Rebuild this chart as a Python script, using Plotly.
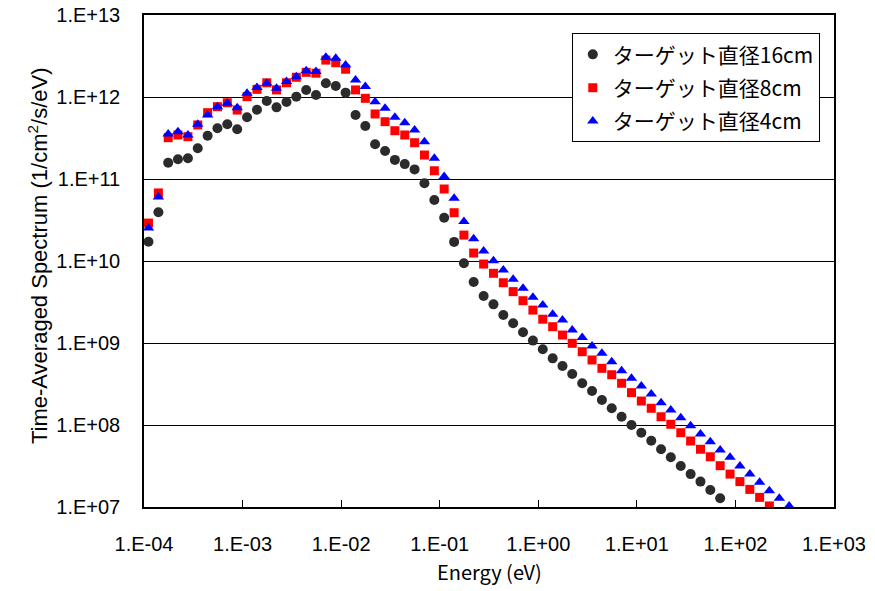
import plotly.graph_objects as go

# Energy bins (eV)
energy = [
    1.11e-4, 1.40e-4, 1.76e-4, 2.21e-4, 2.79e-4, 3.51e-4, 4.42e-4, 5.56e-4, 7.00e-4, 8.82e-4,
    1.11e-3, 1.40e-3, 1.76e-3, 2.21e-3, 2.79e-3, 3.51e-3, 4.42e-3, 5.56e-3, 7.00e-3, 8.82e-3,
    1.11e-2, 1.40e-2, 1.76e-2, 2.21e-2, 2.79e-2, 3.51e-2, 4.42e-2, 5.56e-2, 7.00e-2, 8.82e-2,
    1.11e-1, 1.40e-1, 1.76e-1, 2.21e-1, 2.79e-1, 3.51e-1, 4.42e-1, 5.56e-1, 7.00e-1, 8.82e-1,
    1.11e0, 1.40e0, 1.76e0, 2.21e0, 2.79e0, 3.51e0, 4.42e0, 5.56e0, 7.00e0, 8.82e0,
    1.11e1, 1.40e1, 1.76e1, 2.21e1, 2.79e1, 3.51e1, 4.42e1, 5.56e1, 7.00e1, 8.82e1,
    1.11e2, 1.40e2, 1.76e2, 2.21e2, 2.79e2, 3.51e2,
]

# Target diameter 16 cm
flux_16cm = [
    1.72e10, 3.93e10, 1.58e11, 1.74e11, 1.79e11, 2.37e11, 3.37e11, 4.15e11, 4.65e11, 4.04e11,
    5.65e11, 7.00e11, 8.93e11, 7.48e11, 8.69e11, 1.01e12, 1.22e12, 1.06e12, 1.47e12, 1.36e12,
    1.13e12, 6.03e11, 4.43e11, 2.65e11, 2.19e11, 1.71e11, 1.52e11, 1.31e11, 8.87e10, 5.55e10,
    3.37e10, 1.71e10, 9.38e9, 5.55e9, 3.74e9, 2.96e9, 2.19e9, 1.74e9, 1.35e9, 1.07e9,
    8.38e8, 6.50e8, 5.25e8, 4.19e8, 3.23e8, 2.60e8, 2.02e8, 1.60e8, 1.26e8, 1.00e8,
    8.05e7, 6.44e7, 5.06e7, 4.04e7, 3.16e7, 2.52e7, 2.04e7, 1.61e7, 1.28e7,
]

# Target diameter 8 cm
flux_8cm = [
    2.90e10, 6.76e10, 3.19e11, 3.44e11, 3.28e11, 4.56e11, 6.44e11, 7.62e11, 8.51e11, 6.93e11,
    1.01e12, 1.24e12, 1.49e12, 1.22e12, 1.49e12, 1.74e12, 2.00e12, 1.95e12, 2.82e12, 2.62e12,
    2.18e12, 1.22e12, 9.64e11, 6.21e11, 5.00e11, 3.88e11, 3.44e11, 2.77e11, 1.96e11, 1.26e11,
    7.55e10, 3.88e10, 2.07e10, 1.25e10, 9.18e9, 7.08e9, 5.43e9, 4.23e9, 3.28e9, 2.52e9,
    1.95e9, 1.58e9, 1.25e9, 9.91e8, 7.83e8, 6.21e8, 4.91e8, 4.10e8, 3.23e8, 2.48e8,
    1.96e8, 1.60e8, 1.26e8, 1.02e8, 8.05e7, 6.38e7, 5.06e7, 4.10e7, 3.19e7, 2.52e7,
    2.04e7, 1.64e7, 1.31e7, 1.03e7,
]

# Target diameter 4 cm
flux_4cm = [
    2.52e10, 6.03e10, 3.54e11, 3.78e11, 3.44e11, 4.65e11, 6.03e11, 7.62e11, 8.38e11, 7.41e11,
    1.11e12, 1.31e12, 1.47e12, 1.28e12, 1.54e12, 1.77e12, 2.09e12, 2.04e12, 3.05e12, 2.96e12,
    2.45e12, 1.61e12, 1.34e12, 8.77e11, 7.28e11, 5.65e11, 4.86e11, 3.96e11, 2.85e11, 1.79e11,
    1.07e11, 5.82e10, 3.03e10, 1.87e10, 1.32e10, 1.01e10, 7.76e9, 5.98e9, 4.65e9, 3.61e9,
    2.90e9, 2.24e9, 1.91e9, 1.44e9, 1.17e9, 9.18e8, 7.48e8, 5.92e8, 4.59e8, 3.72e8,
    2.99e8, 2.39e8, 1.87e8, 1.52e8, 1.23e8, 9.79e7, 7.76e7, 6.25e7, 4.95e7, 4.04e7,
    3.16e7, 2.52e7, 2.00e7, 1.58e7, 1.28e7, 1.03e7,
]

series_names = ["ターゲット直径16cm", "ターゲット直径8cm", "ターゲット直径4cm"]

x_tickvals = [1e-4, 1e-3, 1e-2, 1e-1, 1e0, 1e1, 1e2, 1e3]
x_ticktext = ["1.E-04", "1.E-03", "1.E-02", "1.E-01", "1.E+00", "1.E+01", "1.E+02", "1.E+03"]
y_tickvals = [1e7, 1e8, 1e9, 1e10, 1e11, 1e12, 1e13]
y_ticktext = ["1.E+07", "1.E+08", "1.E+09", "1.E+10", "1.E+11", "1.E+12", "1.E+13"]

fig = go.Figure()
fig.add_trace(go.Scatter(
    x=energy[:len(flux_16cm)], y=flux_16cm, mode="markers", name=series_names[0],
    legendgroup="g16",
    marker=dict(symbol="circle", size=10, color="#2b2b2b"),
))
fig.add_trace(go.Scatter(
    x=energy[:len(flux_8cm)], y=flux_8cm, mode="markers", name=series_names[1],
    legendgroup="g8",
    marker=dict(symbol="square", size=9, color="#ff0000"),
))
fig.add_trace(go.Scatter(
    x=energy[:len(flux_4cm)], y=flux_4cm, mode="markers", name=series_names[2],
    legendgroup="g4",
    marker=dict(symbol="triangle-up", size=10, color="#0000ff"),
))

tick_font = dict(family="Liberation Sans, Arial, sans-serif", size=20, color="black")

fig.update_layout(
    width=875, height=591,
    margin=dict(l=144, r=41, t=15, b=84),
    paper_bgcolor="white", plot_bgcolor="white",
    font=dict(family="Liberation Sans, Arial, sans-serif", color="black"),
    showlegend=True,
    legend=dict(
        x=0.62, y=0.963, xanchor="left", yanchor="top",
        bgcolor="white", bordercolor="black", borderwidth=1,
        font=dict(family="Noto Sans CJK JP", size=21, color="black"),
        itemsizing="trace", tracegroupgap=3,
    ),
    xaxis=dict(
        type="log", range=[-4, 3], automargin=False,
        tickvals=x_tickvals, ticktext=x_ticktext,
        tickfont=tick_font, ticklabelstandoff=18,
        ticks="inside", ticklen=7, tickcolor="black",
        showline=True, linecolor="black", linewidth=1.5, mirror=True,
        showgrid=False, zeroline=False,
    ),
    yaxis=dict(
        type="log", range=[7, 13], automargin=False,
        tickvals=y_tickvals, ticktext=y_ticktext,
        tickfont=tick_font, ticklabelstandoff=18,
        ticks="inside", ticklen=5, tickcolor="black",
        showline=True, linecolor="black", linewidth=1.5, mirror=True,
        showgrid=True, gridcolor="black", gridwidth=1.2,
        zeroline=False,
    ),
    annotations=[
        dict(text="Time-Averaged Spectrum (1/cm<sup>2</sup>/s/eV)", textangle=-90,
             xref="paper", yref="paper", x=0, y=0.51, xanchor="center", yanchor="middle",
             xshift=-106, showarrow=False,
             font=dict(family="Liberation Sans, Arial, sans-serif", size=22, color="black")),
        dict(text="Energy (eV)",
             xref="paper", yref="paper", x=0.5, y=0, xanchor="center", yanchor="middle",
             yshift=-64, showarrow=False,
             font=dict(family="Noto Sans CJK JP", size=20, color="black")),
    ],
)

fig.write_html("out.html")
